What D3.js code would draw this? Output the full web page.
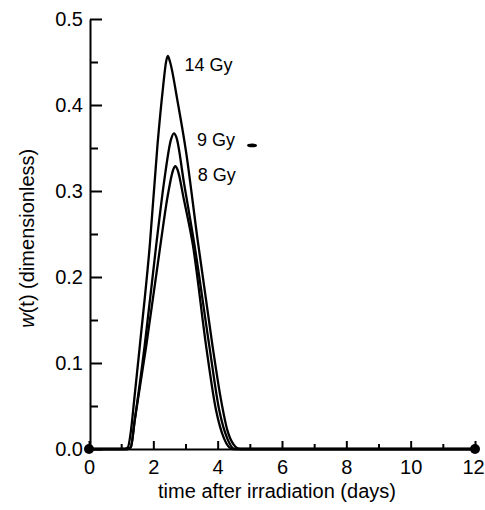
<!DOCTYPE html>
<html>
<head>
<meta charset="utf-8">
<script src="https://cdn.jsdelivr.net/npm/d3@7"></script>
<style>
  body { margin: 0; background: #fff; }
  svg { font-family: "Liberation Sans", Arial, Helvetica, sans-serif; }
  .axis path, .axis line { stroke: #000; stroke-width: 2; }
  .axis text { font-size: 20px; fill: #000; }
</style>
</head>
<body>
<div id="chart"></div>
<script>
// w(t) curves: time (days) and w (dimensionless)
const t14 = [0, 1.1, 1.21, 1.3, 1.4, 1.58, 1.89, 2.13, 2.3, 2.4, 2.45, 2.52, 2.75, 3.02, 3.37, 3.84, 4.1, 4.3, 4.5, 4.7, 12];
const w14 = [0, 0, 0.002, 0.02, 0.055, 0.12, 0.237, 0.354, 0.42, 0.451, 0.457, 0.45, 0.405, 0.345, 0.245, 0.12, 0.058, 0.022, 0.005, 0, 0];

const t9 = [0, 1.2, 1.3, 1.42, 1.73, 2.09, 2.35, 2.55, 2.64, 2.72, 2.95, 3.28, 3.74, 4.05, 4.3, 4.52, 12];
const w9 = [0, 0, 0.002, 0.033, 0.12, 0.237, 0.315, 0.36, 0.367, 0.362, 0.31, 0.237, 0.12, 0.045, 0.012, 0, 0];

const t8 = [0, 1.2, 1.3, 1.42, 1.78, 2.22, 2.45, 2.62, 2.68, 2.75, 2.95, 3.23, 3.64, 3.95, 4.2, 4.45, 12];
const w8 = [0, 0, 0.002, 0.033, 0.12, 0.237, 0.295, 0.325, 0.329, 0.325, 0.29, 0.237, 0.12, 0.045, 0.012, 0, 0];

const doseLabels = ["14 Gy", "9 Gy", "8 Gy"];
const labelT = [2.97, 3.36, 3.38];
const labelW = [0.44, 0.352, 0.312];

const xMajor = [0, 2, 4, 6, 8, 10, 12];
const xMinor = [1, 3, 5, 7, 9, 11];
const yMajor = [0, 0.1, 0.2, 0.3, 0.4, 0.5];
const yMinor = [0.05, 0.15, 0.25, 0.35, 0.45];

const dotT = [0, 12];
const strayMark = [5.07, 0.353];

const width = 485, height = 510;
const margin = {top: 19, right: 10, bottom: 61, left: 89};

const svg = d3.select("#chart")
  .append("svg")
  .attr("width", width)
  .attr("height", height);

const x = d3.scaleLinear()
  .domain([0, 12])
  .range([margin.left, width - margin.right]);

const y = d3.scaleLinear()
  .domain([0, 0.5])
  .range([height - margin.bottom, margin.top]);

// x axis, ticks pointing inward
svg.append("g")
  .attr("class", "axis")
  .attr("transform", `translate(0,${y(0)})`)
  .call(d3.axisBottom(x).tickValues(xMajor).tickSize(-8).tickSizeOuter(0).tickPadding(11).tickFormat(d3.format("d")))
  .call(g => g.selectAll(".tick text").filter(d => d === 12).attr("dx", "-2"));

svg.append("g")
  .attr("class", "axis")
  .attr("transform", `translate(0,${y(0)})`)
  .call(d3.axisBottom(x).tickValues(xMinor).tickSize(-5).tickSizeOuter(0).tickFormat(""))
  .call(g => g.select(".domain").remove());

// y axis
svg.append("g")
  .attr("class", "axis")
  .attr("transform", `translate(${x(0) + 1},0)`)
  .call(d3.axisLeft(y).tickValues(yMajor).tickSize(-12).tickSizeOuter(0).tickPadding(7).tickFormat(d3.format(".1f")));

svg.append("g")
  .attr("class", "axis")
  .attr("transform", `translate(${x(0) + 1},0)`)
  .call(d3.axisLeft(y).tickValues(yMinor).tickSize(-8).tickSizeOuter(0).tickFormat(""))
  .call(g => g.select(".domain").remove());

// axis titles
svg.append("text")
  .attr("x", (x(0) + x(12)) / 2 - 5)
  .attr("y", 498)
  .attr("text-anchor", "middle")
  .attr("font-size", 20)
  .text("time after irradiation (days)");

const yl = svg.append("text")
  .attr("transform", `translate(34,${y(0.245)}) rotate(-90)`)
  .attr("text-anchor", "middle")
  .attr("font-size", 20);
yl.append("tspan").attr("font-style", "italic").text("w");
yl.append("tspan").text("(t) (dimensionless)");

// curves
const line = d3.line()
  .x(d => x(d[0]))
  .y(d => y(d[1]))
  .curve(d3.curveMonotoneX);

const series = [[t14, w14], [t9, w9], [t8, w8]];
series.forEach(([ts, ws]) => {
  svg.append("path")
    .datum(ts.map((t, i) => [t, ws[i]]))
    .attr("d", line)
    .attr("fill", "none")
    .attr("stroke", "#000")
    .attr("stroke-width", 2.3);
});

// dose labels
svg.selectAll(".dose")
  .data(doseLabels)
  .join("text")
  .attr("class", "dose")
  .attr("x", (d, i) => x(labelT[i]))
  .attr("y", (d, i) => y(labelW[i]))
  .attr("font-size", 18)
  .text(d => d);

// end dots
svg.selectAll(".dot")
  .data(dotT)
  .join("circle")
  .attr("class", "dot")
  .attr("cx", d => x(d))
  .attr("cy", y(0))
  .attr("r", 5)
  .attr("fill", "#000");

// small arrow-like mark next to the 9 Gy label
svg.append("ellipse")
  .attr("cx", x(strayMark[0]))
  .attr("cy", y(strayMark[1]))
  .attr("rx", 5)
  .attr("ry", 1.8)
  .attr("fill", "#000");
</script>
</body>
</html>
